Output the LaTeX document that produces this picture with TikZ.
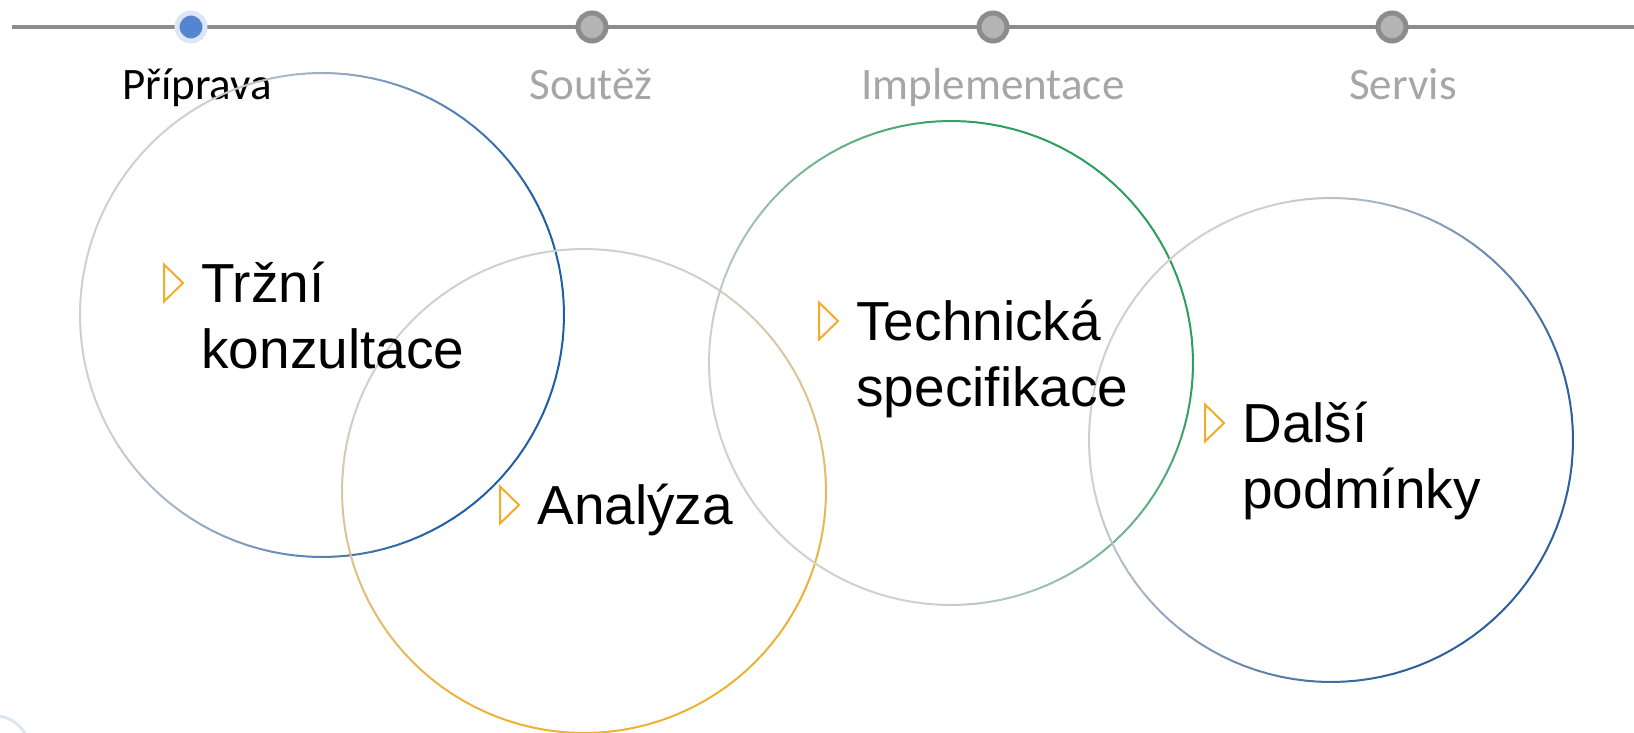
\documentclass[tikz,border=0pt]{standalone}
\usepackage{fontspec}
\setmainfont{Liberation Sans}
\newfontfamily\stagefont{Carlito}
\usetikzlibrary{calc,positioning}
\definecolor{linegrey}{HTML}{8C8C8C}
\definecolor{dotgrey}{HTML}{B4B4B4}
\definecolor{dotblue}{HTML}{5585D0}
\definecolor{dotring}{HTML}{DCE6F5}
\definecolor{labelgrey}{HTML}{A6A6A6}
\definecolor{ringgrey}{HTML}{D0D0D0}
\definecolor{ringblue}{HTML}{1F5FA6}
\definecolor{ringgold}{HTML}{EFB036}
\definecolor{ringgreen}{HTML}{2E9E60}
\definecolor{ringnavy}{HTML}{2D5F9C}
\definecolor{bulletorange}{HTML}{F2AC2A}
\definecolor{cornerblue}{HTML}{DCE6F2}

\begin{document}
\begin{tikzpicture}[x=0.5pt,y=-0.5pt]

\tikzset{stagedot/.style={circle,fill=dotgrey,draw=linegrey,line width=2.5pt,minimum size=14pt,inner sep=0pt},
activedot/.style={stagedot,fill=dotblue,draw=dotring,line width=2.5pt,minimum size=14pt},
stagelabel/.style={font=\stagefont\fontsize{22.5}{27}\selectfont,text=labelgrey,anchor=base,inner sep=0pt},
bodytext/.style={font=\fontsize{27.5}{33}\selectfont,align=left,text width=150pt,anchor=base west,inner sep=0pt},
ringline/.style={line width=1pt,line cap=round},
bullet/.pic={\draw[bulletorange,line width=1pt] (0,-18.5) -- (19,0) -- (0,18.5) -- cycle;}}

\useasboundingbox (0,0) rectangle (1634,733);

% Timeline
\coordinate (tl0) at (12,27);
\coordinate (tl1) at (1634,27);
\draw[linegrey,line width=2.25pt] (tl0) -- (tl1);
\node[activedot] (d1) at (191,27) {};
\node[stagedot] (d2) at (592,27) {};
\node[stagedot] (d3) at (993,27) {};
\node[stagedot] (d4) at (1392,27) {};

% Stage labels
\node[stagelabel,text=black] (l1) at (197,100) {Příprava};
\node[stagelabel] (l2) at (591,100) {Soutěž};
\node[stagelabel] (l3) at (993,100) {Implementace};
\node[stagelabel] (l4) at (1403,100) {Servis};

% Rings, grey on one side and coloured on the other
\foreach \cx/\cy/\col/\dir [count=\i] in {322/315/ringblue/15, 584/491/ringgold/70, 951/363/ringgreen/-40, 1331/440/ringnavy/30} {
  \coordinate (c\i) at (\cx,\cy);
  \foreach \a in {0,3,...,357} {
    \pgfmathsetmacro\mix{max(0,min(100,50+70*cos(\a-\dir)))}
    \draw[ringline,\col!\mix!ringgrey] ($(c\i)+(\a:242)$) -- ($(c\i)+(\a+3:242)$);
  }
}
\draw[cornerblue,line width=1.5pt] (-5,750) circle[radius=34];

% Texts
\node[bodytext] (t1) at (201,302) {Tržní\\konzultace};
\node[bodytext] (t2) at (537,524) {Analýza};
\node[bodytext] (t3) at (856,340) {Technická\\specifikace};
\node[bodytext] (t4) at (1242,442) {Další\\podmínky};
\foreach \n in {t1,t2,t3,t4} \pic at ([shift={(-37,-19)}]\n.base west) {bullet};

\end{tikzpicture}
\end{document}
